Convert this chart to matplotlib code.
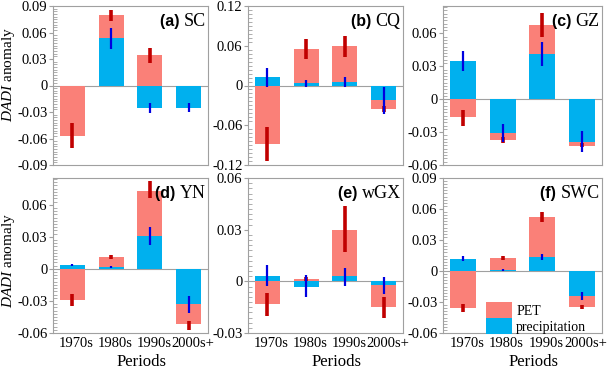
import numpy as np
import matplotlib
matplotlib.use("Agg")
import matplotlib.pyplot as plt
import matplotlib.transforms as mtrans
from matplotlib.ticker import MultipleLocator, AutoMinorLocator, FuncFormatter

# Data
periods = ["1970s", "1980s", "1990s", "2000s+"]
regions = ["SC", "CQ", "GZ", "YN", "wGX", "SWC"]
letters = ["(a)", "(b)", "(c)", "(d)", "(e)", "(f)"]

# PET contribution (bar) and its error range, one row per region
pet = [[-0.057, 0.080, 0.034, 0.000],
       [-0.089, 0.055, 0.059, -0.036],
       [-0.016, -0.037, 0.068, -0.043],
       [-0.029, 0.011, 0.073, -0.052],
       [-0.013, 0.0015, 0.030, -0.015],
       [-0.036, 0.013, 0.052, -0.035]]
pet_lo = [[-0.071, 0.073, 0.025, 0.000],
          [-0.114, 0.040, 0.043, -0.040],
          [-0.024, -0.040, 0.057, -0.044],
          [-0.035, 0.009, 0.066, -0.057],
          [-0.020, 0.000, 0.017, -0.021],
          [-0.040, 0.011, 0.047, -0.0365]]
pet_hi = [[-0.043, 0.086, 0.042, 0.000],
          [-0.063, 0.070, 0.075, -0.031],
          [-0.010, -0.0345, 0.079, -0.040],
          [-0.0235, 0.013, 0.082, -0.049],
          [-0.0066, 0.0028, 0.044, -0.009],
          [-0.032, 0.015, 0.057, -0.033]]

# precipitation contribution (bar) and its error range
pre = [[0.000, 0.054, -0.026, -0.025],
       [0.013, 0.004, 0.006, -0.022],
       [0.035, -0.031, 0.041, -0.039],
       [0.004, 0.002, 0.031, -0.033],
       [0.003, -0.003, 0.003, -0.002],
       [0.012, 0.001, 0.014, -0.024]]
pre_lo = [[0.000, 0.041, -0.031, -0.030],
          [-0.002, -0.002, -0.002, -0.043],
          [0.026, -0.039, 0.0305, -0.048],
          [0.0024, 0.001, 0.022, -0.041],
          [-0.0028, -0.009, -0.0028, -0.0072],
          [0.0095, 0.000, 0.011, -0.028]]
pre_hi = [[0.000, 0.065, -0.020, -0.020],
          [0.027, 0.0076, 0.013, -0.002],
          [0.044, -0.023, 0.052, -0.029],
          [0.005, 0.003, 0.039, -0.025],
          [0.0094, 0.0034, 0.008, 0.0028],
          [0.0143, 0.002, 0.016, -0.020]]

ylims = [(-0.09, 0.09), (-0.12, 0.12), (-0.06, 0.085),
         (-0.06, 0.085), (-0.03, 0.06), (-0.06, 0.09)]
ysteps = [0.03, 0.06, 0.03, 0.03, 0.03, 0.03]

pet_col = "#fa8078"
pre_col = "#00b0ee"
pet_err = "#c00000"
pre_err = "#0000e0"
grey = "#a0a0a0"

serif = "Liberation Serif"
plt.rcParams["font.family"] = serif
plt.rcParams["mathtext.fontset"] = "custom"
plt.rcParams["mathtext.rm"] = serif
plt.rcParams["mathtext.it"] = serif + ":italic"

W, H = 609, 370
lefts = [53, 248, 443]
rights = [208, 403, 602]
tops = [6, 178]
bottoms = [165, 333]
ylab_y = [0.566, 0.47]

fig = plt.figure(figsize=(W / 100, H / 100), dpi=100)
shift = mtrans.ScaledTranslation(4 / 100, 0, fig.dpi_scale_trans)


def fmt(v, pos):
    if abs(v) < 1e-9:
        return "0"
    return "%.2f" % v


x = np.arange(1, 5)
for i in range(6):
    r, c = divmod(i, 3)
    l, rt, t, b = lefts[c], rights[c], tops[r], bottoms[r]
    ax = fig.add_axes([l / W, 1 - b / H, (rt - l) / W, (b - t) / H])

    ax.axhline(0, color=grey, lw=0.8, zorder=1)
    ax.bar(x, pet[i], width=0.65, color=pet_col, zorder=2, label="PET")
    ax.bar(x, pre[i], width=0.65, color=pre_col, zorder=3, label="precipitation")
    ax.vlines(x, pet_lo[i], pet_hi[i], color=pet_err, lw=2.6, zorder=4)
    ax.vlines(x, pre_lo[i], pre_hi[i], color=pre_err, lw=1.6, zorder=5)

    ax.set_xlim(0.5, 4.5)
    ax.set_ylim(*ylims[i])
    ax.yaxis.set_major_locator(MultipleLocator(ysteps[i]))
    ax.yaxis.set_minor_locator(AutoMinorLocator(10))
    ax.yaxis.set_major_formatter(FuncFormatter(fmt))
    ax.tick_params(axis="y", which="major", direction="out", length=3,
                   color=grey, labelsize=10.5, pad=1)
    ax.tick_params(axis="y", which="minor", direction="in", length=3,
                   color=grey, width=0.6)
    ax.tick_params(axis="x", length=0, labelsize=10.5, pad=3)
    for s in ax.spines.values():
        s.set_color(grey)
        s.set_linewidth(0.8)

    ax.set_xticks(x)
    if r == 1:
        ax.set_xticklabels(periods)
        for lab in ax.get_xticklabels():
            lab.set_transform(lab.get_transform() + shift)
        ax.set_xlabel("Periods", fontsize=12)
        ax.xaxis.label.set_va("center")
        ax.xaxis.set_label_coords(0.571, -0.19)
    else:
        ax.set_xticklabels([])
    if c == 0:
        ax.set_ylabel(r"$\mathit{DADI}$ anomaly", fontsize=11)
        ax.yaxis.label.set_va("center")
        ax.yaxis.set_label_coords(-0.285, ylab_y[r])

    name = ax.text(0.985, 0.955, regions[i], transform=ax.transAxes,
                   ha="right", va="top", fontsize=13, zorder=6)
    ax.annotate(letters[i] + " ", xy=(0, 0.5), xycoords=name,
                ha="right", va="center", fontsize=11.5, fontweight="bold",
                family="Liberation Sans", zorder=6)

    if i == 5:
        ax.legend(loc="lower left", bbox_to_anchor=(0.27, -0.005),
                  frameon=False, fontsize=10, handlelength=1.87,
                  handleheight=1.37, labelspacing=0.0, handletextpad=0.3,
                  borderaxespad=0, borderpad=0)

fig.savefig("out.png", dpi=100)
